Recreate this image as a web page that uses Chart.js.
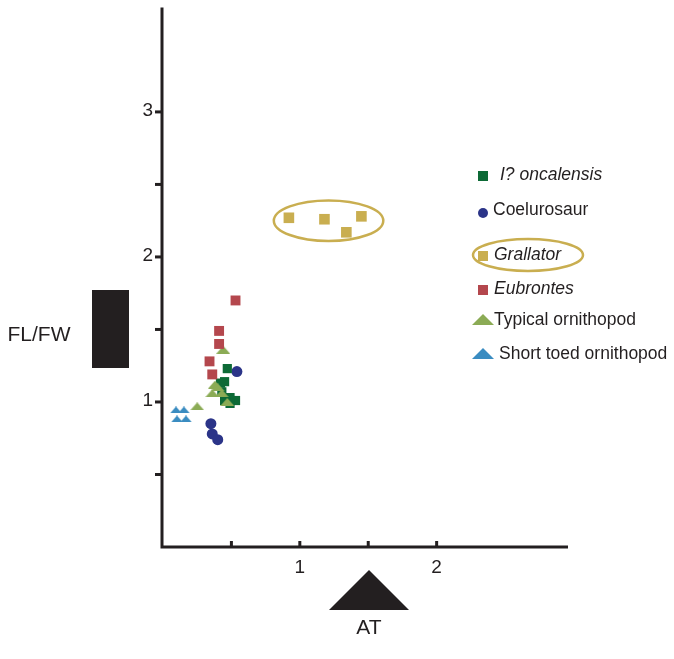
<!DOCTYPE html>
<html>
<head>
<meta charset="utf-8">
<script src="https://cdn.jsdelivr.net/npm/chart.js@4/dist/chart.umd.min.js"></script>
<style>
  body { margin: 0; background: #fff; }
  #wrap { width: 674px; height: 659px; }
</style>
</head>
<body>
<div id="wrap"><canvas id="c" width="674" height="659"></canvas></div>
<script>
// AT (x) vs FL/FW (y)
const oncalensisX = [0.47, 0.42, 0.45, 0.43, 0.45, 0.49, 0.53, 0.49];
const oncalensisY = [1.23, 1.13, 1.14, 1.07, 1.01, 1.03, 1.01, 0.99];
const coeluroX = [0.54, 0.35, 0.36, 0.40];
const coeluroY = [1.21, 0.85, 0.78, 0.74];
const grallatorX = [0.92, 1.18, 1.34, 1.45];
const grallatorY = [2.27, 2.26, 2.17, 2.28];
const eubrontesX = [0.53, 0.41, 0.41, 0.34, 0.36];
const eubrontesY = [1.70, 1.49, 1.40, 1.28, 1.19];
const typicalX = [0.44, 0.25, 0.38, 0.36, 0.43, 0.40, 0.47];
const typicalY = [1.36, 0.97, 1.12, 1.06, 1.06, 1.10, 1.00];
const shortX = [0.095, 0.153, 0.102, 0.168];
const shortY = [0.945, 0.945, 0.883, 0.883];

// ellipse around the Grallator group: centre and radii in data units
const grallatorRing = [1.21, 2.25, 0.40, 0.14];

const xTicks = [0.5, 1, 1.5, 2];
const xTickLabels = ["", "1", "", "2"];
const yTicks = [0.5, 1, 1.5, 2, 2.5, 3];
const yTickLabels = ["", "1", "", "2", "", "3"];

const legendLabels = ["I? oncalensis", "Coelurosaur", "Grallator", "Eubrontes", "Typical ornithopod", "Short toed ornithopod"];

const colors = {
  oncalensis: "#0d6a36",
  coeluro: "#2b3488",
  grallator: "#c9ae50",
  eubrontes: "#b4474d",
  typical: "#8bab55",
  shortToed: "#3a8cc1"
};

const FONT = "'Liberation Sans', Arial, sans-serif";

function flatTriangle(w, h, color) {
  const cv = document.createElement("canvas");
  cv.width = w; cv.height = h;
  const g = cv.getContext("2d");
  g.fillStyle = color;
  g.beginPath();
  g.moveTo(w / 2, 0);
  g.lineTo(w, h);
  g.lineTo(0, h);
  g.closePath();
  g.fill();
  return cv;
}

const pts = (xs, ys) => xs.map((v, i) => ({x: v, y: ys[i]}));

const decor = {
  id: "decor",
  beforeDatasetsDraw(chart) {
    const {ctx, scales: {x, y}} = chart;
    const x0 = x.getPixelForValue(0), y0 = y.getPixelForValue(0);
    ctx.save();
    ctx.strokeStyle = "#231f20";
    ctx.lineWidth = 3;
    ctx.beginPath();
    ctx.moveTo(x0 - 1, y.top);
    ctx.lineTo(x0 - 1, y0);
    ctx.lineTo(x.right, y0);
    ctx.stroke();

    ctx.fillStyle = "#231f20";
    ctx.font = "19px " + FONT;
    ctx.textAlign = "right";
    ctx.textBaseline = "middle";
    yTicks.forEach((v, i) => {
      const py = y.getPixelForValue(v);
      ctx.beginPath();
      ctx.moveTo(x0 - 8, py);
      ctx.lineTo(x0, py);
      ctx.stroke();
      if (yTickLabels[i]) ctx.fillText(yTickLabels[i], x0 - 10, py - 1);
    });
    ctx.textAlign = "center";
    xTicks.forEach((v, i) => {
      const px = x.getPixelForValue(v);
      ctx.beginPath();
      ctx.moveTo(px, y0);
      ctx.lineTo(px, y0 - 6);
      ctx.stroke();
      if (xTickLabels[i]) ctx.fillText(xTickLabels[i], px, y0 + 21);
    });

    // ring round Grallator
    const [cx, cy, rx, ry] = grallatorRing;
    ctx.strokeStyle = colors.grallator;
    ctx.lineWidth = 2.5;
    ctx.beginPath();
    ctx.ellipse(x.getPixelForValue(cx), y.getPixelForValue(cy),
      x.getPixelForValue(cx + rx) - x.getPixelForValue(cx),
      y.getPixelForValue(cy) - y.getPixelForValue(cy + ry), 0, 0, Math.PI * 2);
    ctx.stroke();
    ctx.restore();
  },
  afterDraw(chart) {
    const {ctx} = chart;
    ctx.save();
    ctx.fillStyle = "#231f20";
    // axis titles with their black glyphs
    ctx.font = "21px " + FONT;
    ctx.textAlign = "center";
    ctx.textBaseline = "middle";
    ctx.fillText("FL/FW", 39, 335);
    ctx.fillRect(92, 290, 37, 78);
    ctx.font = "21px " + FONT;
    ctx.fillText("AT", 369, 628);
    ctx.beginPath();
    ctx.moveTo(369, 570);
    ctx.lineTo(409, 610);
    ctx.lineTo(329, 610);
    ctx.closePath();
    ctx.fill();

    // legend
    const rows = [175, 210, 255, 289, 320, 354];
    const textX = [500, 493, 494, 494, 494, 499];
    const italic = [true, false, true, true, false, false];
    const keys = ["oncalensis", "coeluro", "grallator", "eubrontes", "typical", "shortToed"];
    ctx.textAlign = "left";
    rows.forEach((ry, i) => {
      const c = colors[keys[i]];
      ctx.fillStyle = c;
      if (i === 1) {
        ctx.beginPath();
        ctx.arc(483, ry + 3, 5, 0, Math.PI * 2);
        ctx.fill();
      } else if (i >= 4) {
        ctx.beginPath();
        ctx.moveTo(483, ry - 6);
        ctx.lineTo(494, ry + 5);
        ctx.lineTo(472, ry + 5);
        ctx.closePath();
        ctx.fill();
      } else {
        ctx.fillRect(478, ry - 4, 10, 10);
      }
      ctx.fillStyle = "#231f20";
      ctx.font = (italic[i] ? "italic " : "") + "17.5px " + FONT;
      ctx.fillText(legendLabels[i], textX[i], ry);
    });
    ctx.strokeStyle = colors.grallator;
    ctx.lineWidth = 2.5;
    ctx.beginPath();
    ctx.ellipse(528, 255, 55, 16, 0, 0, Math.PI * 2);
    ctx.stroke();
    ctx.restore();
  }
};

new Chart(document.getElementById("c"), {
  type: "scatter",
  data: {
    datasets: [
      {label: legendLabels[2], data: pts(grallatorX, grallatorY), pointStyle: "rect", pointRadius: 7.5, backgroundColor: colors.grallator, borderWidth: 0},
      {label: legendLabels[3], data: pts(eubrontesX, eubrontesY), pointStyle: "rect", pointRadius: 7, backgroundColor: colors.eubrontes, borderWidth: 0},
      {label: legendLabels[4], data: pts(typicalX, typicalY), pointStyle: flatTriangle(14, 8, colors.typical), backgroundColor: colors.typical},
      {label: legendLabels[0], data: pts(oncalensisX, oncalensisY), pointStyle: "rect", pointRadius: 6.5, backgroundColor: colors.oncalensis, borderWidth: 0},
      {label: legendLabels[1], data: pts(coeluroX, coeluroY), pointStyle: "circle", pointRadius: 5.5, backgroundColor: colors.coeluro, borderWidth: 0},
      {label: legendLabels[5], data: pts(shortX, shortY), pointStyle: flatTriangle(12, 7, colors.shortToed), backgroundColor: colors.shortToed}
    ]
  },
  options: {
    responsive: false,
    animation: false,
    events: [],
    clip: false,
    layout: {padding: {left: 163, right: 106, top: 7, bottom: 112}},
    plugins: {legend: {display: false}, tooltip: {enabled: false}},
    scales: {
      x: {type: "linear", min: 0, max: 2.96, display: false},
      y: {type: "linear", min: 0, max: 3.72, display: false}
    }
  },
  plugins: [decor]
});
</script>
</body>
</html>
